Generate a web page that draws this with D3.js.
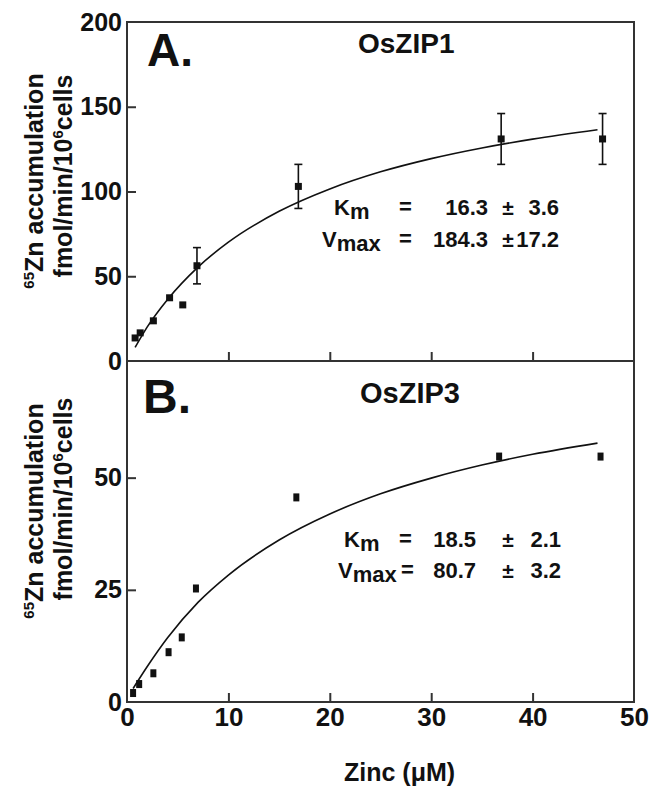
<!DOCTYPE html>
<html>
<head>
<meta charset="utf-8">
<script src="https://cdn.jsdelivr.net/npm/d3@7"></script>
<style>
  body { margin: 0; background: #fff; }
  text { font-family: "Liberation Sans", Arial, sans-serif; font-weight: bold; fill: #111; }
</style>
</head>
<body>
<svg id="canvas"></svg>
<script>
// OsZIP1 measured points (zinc uM, rate, error)
const zip1Zinc = [0.8, 1.3, 2.6, 4.2, 5.5, 6.9, 16.9, 36.9, 46.9];
const zip1Rate = [13.6, 16.6, 23.7, 37.3, 33.1, 56.2, 103, 131, 131];
const zip1Err = [0, 0, 0, 0, 0, 10.7, 13, 15, 15];
// OsZIP1 fitted curve
const zip1FitZinc = [0.8, 2, 4, 7, 10, 15, 20, 25, 30, 35, 40, 46.4];
const zip1FitRate = [8, 20.1, 36.3, 55.4, 70.1, 88.3, 101.5, 111.6, 119.4, 125.7, 130.9, 136.4];

// OsZIP3 measured points
const zip3Zinc = [0.6, 1.2, 2.6, 4.1, 5.4, 6.8, 16.7, 36.7, 46.7];
const zip3Rate = [2, 4, 6.4, 11.1, 14.4, 25.3, 45.6, 54.7, 54.7];
// OsZIP3 fitted curve
const zip3FitZinc = [0.6, 2, 4, 7, 10, 15, 20, 25, 30, 35, 40, 46.4];
const zip3FitRate = [3, 7.9, 14.3, 22.2, 28.3, 36.1, 41.9, 46.4, 49.9, 52.8, 55.2, 57.7];

// kinetic constants printed in the panels
const zip1Km = ["16.3", "3.6"];
const zip1Vmax = ["184.3", "17.2"];
const zip3Km = ["18.5", "2.1"];
const zip3Vmax = ["80.7", "3.2"];

const xTicks = [0, 10, 20, 30, 40, 50];
const yTicksA = [0, 50, 100, 150, 200];
const yTicksB = [0, 25, 50];

const width = 662;
const height = 790;
const left = 127, right = 634;
const topA = 22, midY = 361, bottomB = 702;
const frameColor = "#333";

const svg = d3.select("#canvas").attr("width", width).attr("height", height);

const xScale = d3.scaleLinear().domain([0, 50]).range([left, right]);
const yA = d3.scaleLinear().domain([0, 200]).range([midY, topA]);
const yB = d3.scaleLinear().domain([0, 76]).range([bottomB, midY]);

function drawPanel(yScale, yTicks, showXLabels, zinc, rate, err, fitZinc, fitRate, mark) {
    const y0 = yScale.range()[0], y1 = yScale.range()[1];

    // x axis, ticks pointing inward
    const xg = svg.append("g").attr("transform", `translate(0,${y0})`)
        .call(d3.axisBottom(xScale).tickValues(xTicks).tickSizeInner(-9).tickSizeOuter(0).tickPadding(6)
            .tickFormat(showXLabels ? d3.format("d") : ""));
    xg.select(".domain").remove();
    xg.selectAll(".tick line").attr("stroke", frameColor).attr("stroke-width", 2)
        .filter(d => d === 0 || d === 50).remove();
    xg.selectAll("text").attr("font-size", 26).attr("font-family", null).attr("fill", "#111");

    const yg = svg.append("g").attr("transform", `translate(${left},0)`)
        .call(d3.axisLeft(yScale).tickValues(yTicks).tickSizeInner(-9).tickSizeOuter(0).tickPadding(5));
    yg.select(".domain").remove();
    yg.selectAll(".tick line").attr("stroke", frameColor).attr("stroke-width", 2)
        .filter(d => d === 0 || d === 200).remove();
    yg.selectAll("text").attr("font-size", 25).attr("font-family", null).attr("fill", "#111");

    svg.append("rect")
        .attr("x", left).attr("y", y1)
        .attr("width", right - left).attr("height", y0 - y1)
        .attr("fill", "none").attr("stroke", frameColor).attr("stroke-width", 2);

    const fit = d3.line().x(d => xScale(d[0])).y(d => yScale(d[1])).curve(d3.curveMonotoneX);
    svg.append("path")
        .datum(d3.zip(fitZinc, fitRate))
        .attr("d", fit)
        .attr("fill", "none").attr("stroke", "#111").attr("stroke-width", 1.6);

    const pts = d3.range(zinc.length).map(i => ({x: zinc[i], y: rate[i], e: err ? err[i] : 0}));
    const bars = svg.append("g").selectAll("g").data(pts.filter(d => d.e > 0)).join("g")
        .attr("stroke", "#111").attr("stroke-width", 1.6);
    bars.append("line")
        .attr("x1", d => xScale(d.x)).attr("x2", d => xScale(d.x))
        .attr("y1", d => yScale(d.y - d.e)).attr("y2", d => yScale(d.y + d.e));
    [-1, 1].forEach(s => bars.append("line")
        .attr("x1", d => xScale(d.x) - 4).attr("x2", d => xScale(d.x) + 4)
        .attr("y1", d => yScale(d.y + s * d.e)).attr("y2", d => yScale(d.y + s * d.e)));

    svg.append("g").selectAll("rect").data(pts).join("rect")
        .attr("x", d => xScale(d.x) - mark[0] / 2).attr("y", d => yScale(d.y) - mark[1] / 2)
        .attr("width", mark[0]).attr("height", mark[1])
        .attr("fill", "#111");
}

drawPanel(yA, yTicksA, false, zip1Zinc, zip1Rate, zip1Err, zip1FitZinc, zip1FitRate, [7, 7]);
drawPanel(yB, yTicksB, true, zip3Zinc, zip3Rate, null, zip3FitZinc, zip3FitRate, [6, 8]);

// panel letters and titles
svg.append("text").attr("x", 147).attr("y", 66).attr("font-size", 46).text("A.");
svg.append("text").attr("x", 143).attr("y", 413).attr("font-size", 48).text("B.");
svg.append("text").attr("x", 358).attr("y", 53).attr("font-size", 28).text("OsZIP1");
svg.append("text").attr("x", 360).attr("y", 403).attr("font-size", 29).text("OsZIP3");

// kinetic constants
function constRow(xLabel, yBase, main, sub, eqX, valEnd, errEnd, vals) {
    const t = svg.append("text").attr("x", xLabel).attr("y", yBase).attr("font-size", 22);
    t.append("tspan").text(main);
    t.append("tspan").attr("dy", 4).text(sub);
    svg.append("text").attr("x", eqX).attr("y", yBase - 1).attr("font-size", 22).text("=");
    svg.append("text").attr("x", valEnd).attr("y", yBase).attr("font-size", 22)
        .attr("text-anchor", "end").text(vals[0]);
    svg.append("text").attr("x", 508).attr("y", yBase).attr("font-size", 21)
        .attr("text-anchor", "middle").text("±");
    svg.append("text").attr("x", errEnd).attr("y", yBase).attr("font-size", 22)
        .attr("text-anchor", "end").text(vals[1]);
}
constRow(334, 215, "K", "m", 399, 488, 559, zip1Km);
constRow(322, 247, "V", "max", 399, 488, 559, zip1Vmax);
constRow(344, 547, "K", "m", 399, 476, 561, zip3Km);
constRow(338, 578, "V", "max", 401, 476, 561, zip3Vmax);

// y axis titles, two lines each
function yTitle(cx1, cx2) {
    const a = svg.append("text").attr("font-size", 25).attr("text-anchor", "middle")
        .attr("transform", `translate(43,${cx1}) rotate(-90)`);
    a.append("tspan").attr("font-size", 15).attr("dy", -9).text("65");
    a.append("tspan").attr("dy", 9).text("Zn accumulation");
    const b = svg.append("text").attr("font-size", 25).attr("text-anchor", "middle")
        .attr("transform", `translate(72,${cx2}) rotate(-90)`);
    b.append("tspan").text("fmol/min/10");
    b.append("tspan").attr("font-size", 15).attr("dy", -9).text("6");
    b.append("tspan").attr("dy", 9).text("cells");
}
yTitle(181, 176);
yTitle(511, 499);

// x axis title
svg.append("text").attr("x", 344).attr("y", 781).attr("font-size", 25).text("Zinc (μM)");
</script>
</body>
</html>
